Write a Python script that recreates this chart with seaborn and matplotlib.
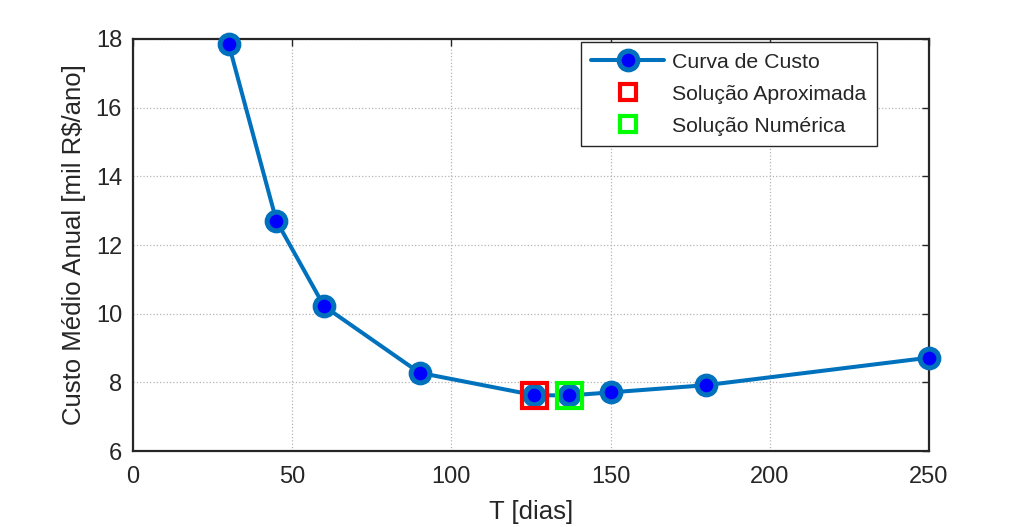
import pandas as pd
import seaborn as sns
import matplotlib.pyplot as plt
from matplotlib.lines import Line2D

# values
t_dias = [30, 45, 60, 90, 126, 137, 150, 180, 250]
custo = [17.86, 12.71, 10.22, 8.28, 7.63, 7.62, 7.71, 7.92, 8.72]
t_aprox = [126]
custo_aprox = [7.63]
t_num = [137]
custo_num = [7.62]

df_curva = pd.DataFrame({'T': t_dias, 'custo': custo})
df_aprox = pd.DataFrame({'T': t_aprox, 'custo': custo_aprox})
df_num = pd.DataFrame({'T': t_num, 'custo': custo_num})

sns.set_style('white')
plt.rcParams['font.family'] = ['Liberation Sans', 'DejaVu Sans']

fig = plt.figure(figsize=(10.24, 5.27), dpi=100)
ax = fig.add_axes([0.130, 0.144, 0.777, 0.782])

sns.lineplot(data=df_curva, x='T', y='custo', ax=ax,
             color='#0072BD', linewidth=2.9,
             marker='o', markersize=13.5, markerfacecolor='#0000FF',
             markeredgecolor='#0072BD', markeredgewidth=3.6,
             label='Curva de Custo', zorder=3, clip_on=False)
sns.lineplot(data=df_aprox, x='T', y='custo', ax=ax,
             linestyle='none', marker='s', markersize=18,
             markerfacecolor='none', markeredgecolor='#FF0000',
             markeredgewidth=3, label='Solução Aproximada', zorder=4)
sns.lineplot(data=df_num, x='T', y='custo', ax=ax,
             linestyle='none', marker='s', markersize=18,
             markerfacecolor='none', markeredgecolor='#00FF00',
             markeredgewidth=3, label='Solução Numérica', zorder=4)

ax.set_xlim(0, 250)
ax.set_ylim(6, 18)
ax.set_xticks([0, 50, 100, 150, 200, 250])
ax.set_yticks([6, 8, 10, 12, 14, 16, 18])
ax.grid(True, color='#b5b5b5', linestyle=':', linewidth=0.9)
ax.set_axisbelow(True)

for s in ax.spines.values():
    s.set_color('#262626')
    s.set_linewidth(1.6)
    s.set_zorder(2)
ax.tick_params(direction='in', length=5, width=1, top=True, right=True,
               labelsize=17, colors='#262626')
ax.tick_params(axis='x', pad=11)
ax.tick_params(axis='y', pad=8)

ax.set_xlabel('T [dias]', fontsize=18.5, color='#262626', labelpad=8)
ax.set_ylabel('Custo Médio Anual [mil R$/ano]', fontsize=18.5, color='#262626', labelpad=7)

handles = [
    Line2D([], [], color='#0072BD', linewidth=2.9, marker='o', markersize=13.5,
           markerfacecolor='#0000FF', markeredgecolor='#0072BD', markeredgewidth=3.6),
    Line2D([], [], linestyle='none', marker='s', markersize=12,
           markerfacecolor='none', markeredgecolor='#FF0000', markeredgewidth=3),
    Line2D([], [], linestyle='none', marker='s', markersize=12,
           markerfacecolor='none', markeredgecolor='#00FF00', markeredgewidth=3),
]
leg = ax.legend(handles, ['Curva de Custo', 'Solução Aproximada', 'Solução Numérica'],
                loc='upper right', bbox_to_anchor=(0.935, 0.993), borderaxespad=0,
                fontsize=15.3, fancybox=False, framealpha=1, edgecolor='#262626',
                handlelength=3.4, handletextpad=0.4, labelspacing=0.62, borderpad=0.5)
leg.get_frame().set_linewidth(1)

plt.savefig('out.png', dpi=100)
